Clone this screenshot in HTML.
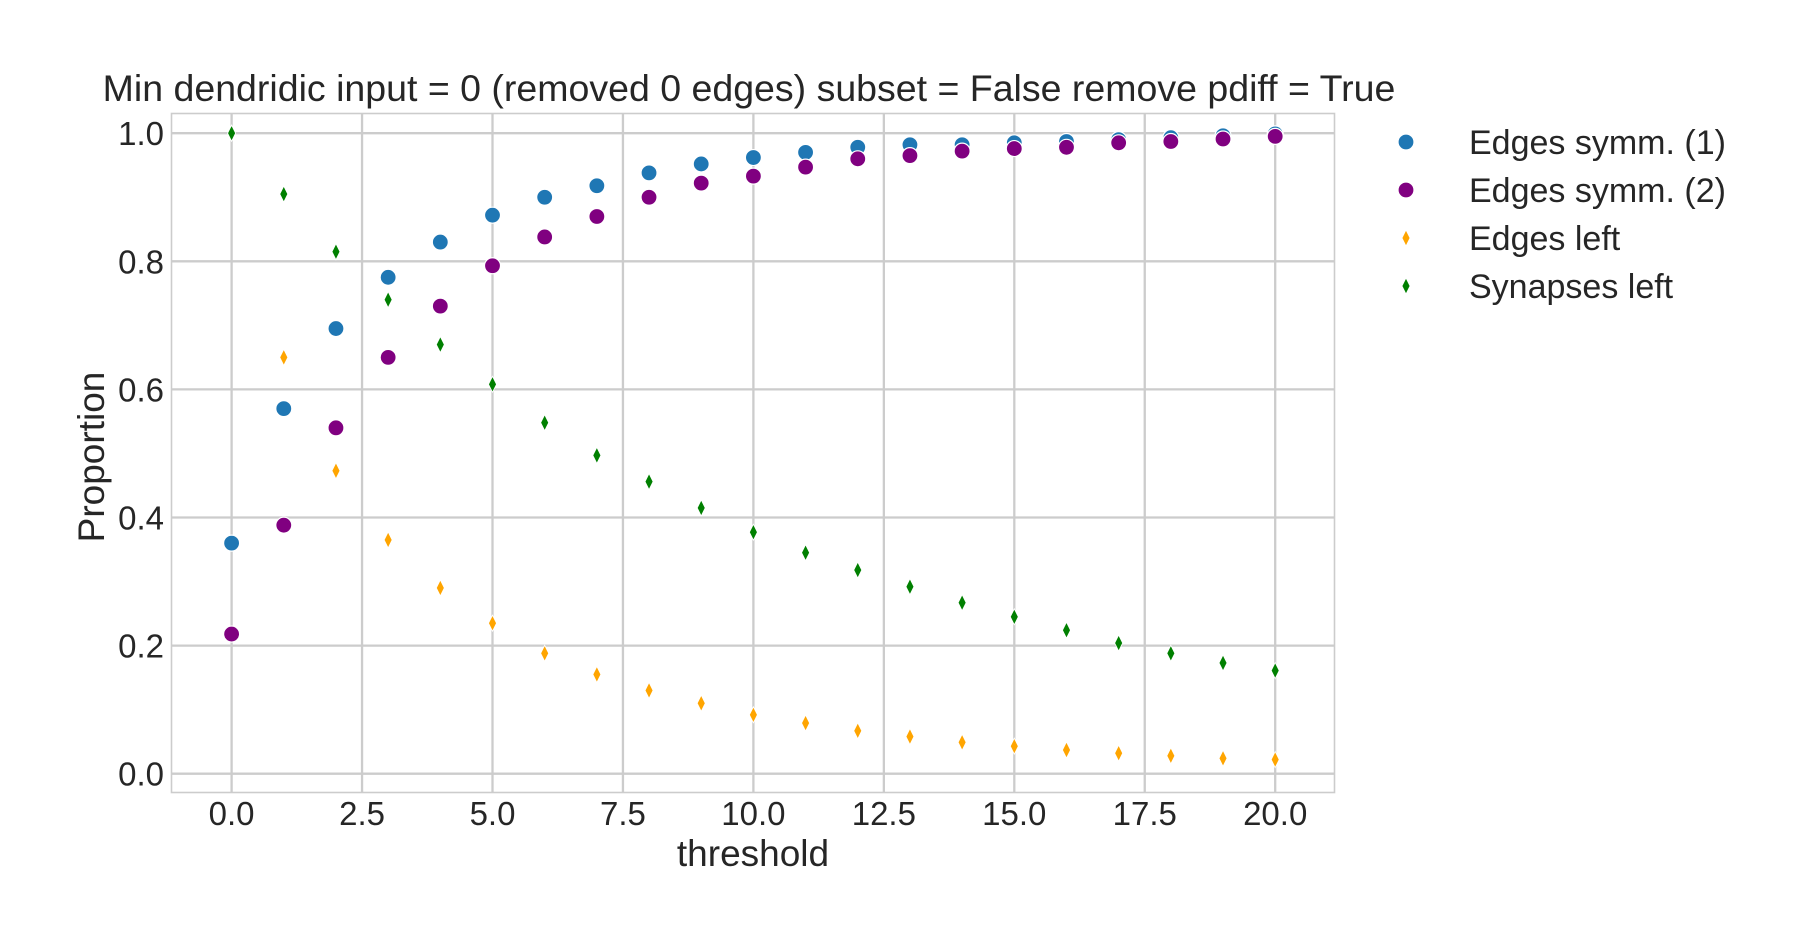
<!DOCTYPE html>
<html><head><meta charset="utf-8"><style>
body{margin:0;background:#fff;}
svg{display:block;font-family:"Liberation Sans",Arial,sans-serif;}
</style></head><body>
<svg id="chart" width="1816" height="949">
<g id="grid"></g>
<g id="marks"></g>
<g id="ticks"></g>
<text x="749" y="101" font-size="37.5" fill="#262626" text-anchor="middle">Min dendridic input = 0 (removed 0 edges) subset = False remove pdiff = True</text>
<text x="753" y="866" font-size="37" fill="#262626" text-anchor="middle">threshold</text>
<text transform="translate(104,457) rotate(-90)" font-size="37" fill="#262626" text-anchor="middle">Proportion</text>
<g id="legend"></g>
</svg>
<script>
const thresholds=[0,1,2,3,4,5,6,7,8,9,10,11,12,13,14,15,16,17,18,19,20];
const symm1=[0.36,0.57,0.695,0.775,0.83,0.872,0.9,0.918,0.938,0.952,0.962,0.97,0.978,0.982,0.982,0.985,0.987,0.99,0.993,0.996,0.999];
const symm2=[0.218,0.388,0.54,0.65,0.73,0.793,0.838,0.87,0.9,0.922,0.933,0.947,0.96,0.965,0.972,0.976,0.978,0.985,0.987,0.991,0.995];
const edgesLeft=[1.0,0.65,0.473,0.365,0.29,0.235,0.188,0.155,0.13,0.11,0.092,0.079,0.067,0.058,0.049,0.043,0.037,0.032,0.028,0.024,0.022];
const synLeft=[1.0,0.905,0.815,0.74,0.67,0.608,0.548,0.497,0.456,0.415,0.377,0.345,0.318,0.292,0.267,0.245,0.224,0.204,0.188,0.173,0.161];
const xTicks=[0,2.5,5,7.5,10,12.5,15,17.5,20];
const xTickLabels=["0.0","2.5","5.0","7.5","10.0","12.5","15.0","17.5","20.0"];
const yTicks=[0,0.2,0.4,0.6,0.8,1.0];
const yTickLabels=["0.0","0.2","0.4","0.6","0.8","1.0"];
const seriesNames=["Edges symm. (1)","Edges symm. (2)","Edges left","Synapses left"];

const NS="http://www.w3.org/2000/svg";
const L=171.5,R=1334.5,T=113.5,B=792.5;
const xs=v=>231.6+(v-0)*(1275.2-231.6)/20;
const ys=v=>773.7-v*(773.7-133.2);
function mk(tag,attrs,parent){const e=document.createElementNS(NS,tag);for(const k in attrs)e.setAttribute(k,attrs[k]);parent.appendChild(e);return e;}
const grid=document.getElementById('grid'),ticks=document.getElementById('ticks'),marks=document.getElementById('marks'),leg=document.getElementById('legend');
const frame=mk('rect',{x:L,y:T,width:R-L,height:B-T,fill:'none',stroke:'#cccccc','stroke-width':1.6},grid);


xTicks.forEach((t,i)=>{
  const g=mk('line',{x1:xs(t),x2:xs(t),y1:T,y2:B,stroke:'#cccccc','stroke-width':2.3},grid);
  
  
  const tx=mk('text',{x:xs(t),y:825,'font-size':33,fill:'#262626','text-anchor':'middle'},ticks);
  tx.textContent=xTickLabels[i];
  
  
});
yTicks.forEach((t,i)=>{
  const g=mk('line',{x1:L,x2:R,y1:ys(t),y2:ys(t),stroke:'#cccccc','stroke-width':2.3},grid);
  
  
  const tx=mk('text',{x:164,y:ys(t)+12,'font-size':33,fill:'#262626','text-anchor':'end'},ticks);
  tx.textContent=yTickLabels[i];
  
  
});
function circle(x,y,c,p){return mk('circle',{cx:x,cy:y,r:8,fill:c,stroke:'#fff','stroke-width':1.2},p);}
function diamond(x,y,c,p){return mk('path',{d:`M${x},${y-8}L${x+4},${y}L${x},${y+8}L${x-4},${y}Z`,fill:c,stroke:'#fff','stroke-width':0.8},p);}
const series=[[symm1,'#1f77b4','c'],[symm2,'#800080','c'],[edgesLeft,'#ffa500','d'],[synLeft,'#008000','d']];
series.forEach(([vals,col,shape],si)=>{
  vals.forEach((v,i)=>{
    const el=shape==='c'?circle(xs(thresholds[i]),ys(v),col,marks):diamond(xs(thresholds[i]),ys(v),col,marks);
    
    
  });
  const ly=142+si*48;
  const m=shape==='c'?circle(1406,ly,col,leg):diamond(1406,ly,col,leg);
  
  
  const t=mk('text',{x:1469,y:ly+12,'font-size':34,fill:'#262626'},leg);
  t.textContent=seriesNames[si];
  
  
});
</script>
</body></html>
